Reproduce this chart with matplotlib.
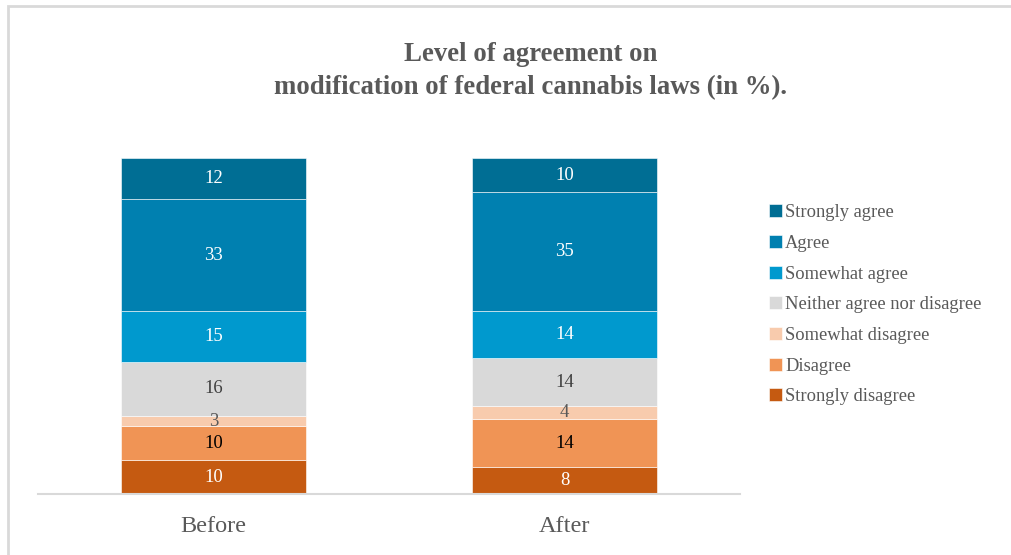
import matplotlib
matplotlib.use("Agg")
import matplotlib.pyplot as plt
from matplotlib.patches import Rectangle

groups = ["Before", "After"]
levels = ["Strongly disagree", "Disagree", "Somewhat disagree",
          "Neither agree nor disagree", "Somewhat agree", "Agree", "Strongly agree"]
before = [10, 10, 3, 16, 15, 33, 12]
after = [8, 14, 4, 14, 14, 35, 10]
colors = ["#C55A11", "#F09455", "#F8CBAD", "#D9D9D9", "#0099CE", "#0080B0", "#006E94"]
label_colors = ["white", "black", "#595959", "#404040", "white", "white", "white"]
title = "Level of agreement on\nmodification of federal cannabis laws (in %)."

plt.rcParams['font.family'] = ['Liberation Serif', 'DejaVu Serif']

W, H = 1011, 555
fig = plt.figure(figsize=(W / 100, H / 100), dpi=100)
fig.patch.set_facecolor("white")

# chart border
fig.add_artist(Rectangle((7.5 / W, -0.1), 1.2, 1 - 5.5 / H + 0.1, transform=fig.transFigure,
                         fill=False, edgecolor="#D9D9D9", linewidth=2))

ax = fig.add_axes([38 / W, 1 - 494 / H, (740 - 38) / W, (494 - 155) / H])
x = list(range(len(groups)))
bottoms = [0] * len(groups)
handles = []
for i, lvl in enumerate(levels):
    vals = [before[i], after[i]]
    bars = ax.bar(x, vals, width=0.525, bottom=bottoms, color=colors[i],
                  edgecolor="white", linewidth=0.4, label=lvl)
    handles.append(bars)
    for xi, v, b in zip(x, vals, bottoms):
        ax.text(xi, b + v / 2, str(v), ha="center", va="center",
                fontsize=13.5, color=label_colors[i])
    bottoms = [b + v for b, v in zip(bottoms, vals)]

ax.set_xlim(-0.5, 1.5)
ax.set_ylim(0, 100)
ax.set_yticks([])
ax.set_xticks(x)
ax.set_xticklabels(groups, fontsize=17.5, color="#595959")
ax.tick_params(axis="x", length=0, pad=16)
for s in ["top", "right", "left"]:
    ax.spines[s].set_visible(False)
ax.spines["bottom"].set_color("#D9D9D9")
ax.spines["bottom"].set_linewidth(1.5)

fig.text(531 / W, 1 - 71 / H, title, ha="center", va="center", fontsize=19.3,
         fontweight="bold", color="#595959", linespacing=1.4)

leg = fig.legend(handles[::-1], levels[::-1], loc="upper left",
                 bbox_to_anchor=(762 / W, 1 - 197 / H), frameon=False,
                 fontsize=13.3, handlelength=0.7, handleheight=0.7,
                 handletextpad=0.15, labelspacing=0.74, borderaxespad=0)
for t in leg.get_texts():
    t.set_color("#595959")

fig.savefig("out.png", dpi=100)
